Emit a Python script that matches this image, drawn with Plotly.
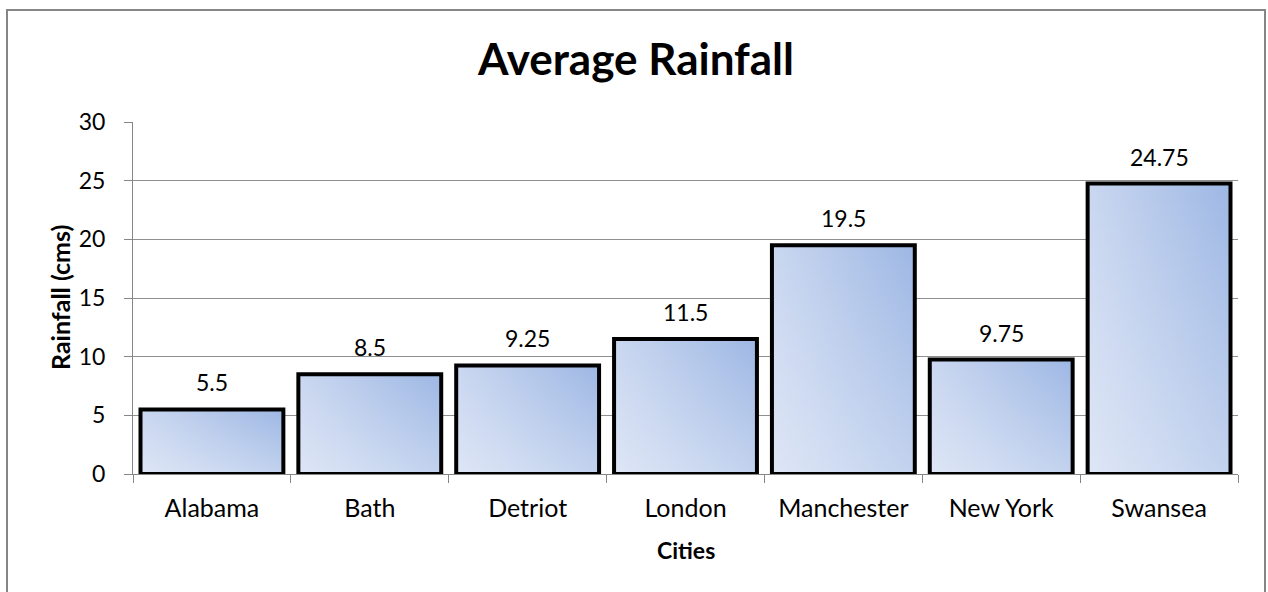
import plotly.graph_objects as go

cities = ["Alabama", "Bath", "Detriot", "London", "Manchester", "New York", "Swansea"]
rainfall = [5.5, 8.5, 9.25, 11.5, 19.5, 9.75, 24.75]
value_labels = ["5.5", "8.5", "9.25", "11.5", "19.5", "9.75", "24.75"]
y_ticks = [0, 5, 10, 15, 20, 25, 30]

W, H = 1268, 592
PL, PR, PT, PB = 133, 1238, 122, 474          # plot area in pixels
ML, MT, MR, MB = PL, PT, W - PR, H - PB
PW, PH = PR - PL, PB - PT
BAR_W = 0.905
HALF = BAR_W / 2
FONT = "Lato"
GRAY = "#868686"


def px_x(px):
    return (px - PL) / PW


def px_y(py):
    return (PB - py) / PH


fig = go.Figure()

# gradient fills (on base hidden linear axis)
for i, v in enumerate(rainfall):
    xs = [i - HALF, i + HALF, i + HALF, i - HALF, i - HALF]
    ys = [0, 0, v, v, 0]
    fig.add_trace(go.Scatter(
        x=xs, y=ys, mode="lines", fill="toself", line=dict(width=0),
        fillgradient=dict(type="horizontal",
                          colorscale=[[0, "#cad7f0"], [1, "#9db7e4"]]),
        hoverinfo="skip", showlegend=False, xaxis="x", yaxis="y"))
    fig.add_trace(go.Scatter(
        x=xs, y=ys, mode="lines", fill="toself", line=dict(width=0),
        fillgradient=dict(type="vertical",
                          colorscale=[[0, "rgba(255,255,255,0.38)"],
                                      [1, "rgba(255,255,255,0)"]]),
        hoverinfo="skip", showlegend=False, xaxis="x", yaxis="y"))

# bar outlines (category overlay axis)
fig.add_trace(go.Bar(
    x=cities, y=rainfall, width=BAR_W,
    marker=dict(color="rgba(0,0,0,0)", line=dict(color="#000000", width=4)),
    showlegend=False, xaxis="x2", yaxis="y"))

# value labels
for c, v, t in zip(cities, rainfall, value_labels):
    fig.add_annotation(x=c, y=v, xref="x2", yref="y", text=t, showarrow=False,
                       yanchor="bottom", yshift=11,
                       font=dict(family=FONT, size=23, color="#000000"))

# axis titles
fig.add_annotation(x=0.5, y=px_y(550), xref="paper", yref="paper", text="<b>Cities</b>",
                   showarrow=False, yanchor="middle",
                   font=dict(family=FONT, size=23, color="#000000"))
fig.add_annotation(x=px_x(60), y=0.5, xref="paper", yref="paper",
                   text="<b>Rainfall (cms)</b>", textangle=-90, showarrow=False,
                   xanchor="center", yanchor="middle",
                   font=dict(family=FONT, size=25, color="#000000"))

# chart border
fig.add_shape(type="rect", xref="paper", yref="paper",
              x0=px_x(7), x1=px_x(1265), y0=px_y(640), y1=px_y(10),
              line=dict(color=GRAY, width=2), fillcolor="rgba(0,0,0,0)", layer="below")

fig.update_layout(
    width=W, height=H,
    margin=dict(l=ML, r=MR, t=MT, b=MB, pad=0),
    paper_bgcolor="white", plot_bgcolor="white",
    title=dict(text="<b>Average Rainfall</b>", x=636 / W, xref="container",
               y=1 - 60 / H, yref="container", yanchor="middle", xanchor="center",
               font=dict(family=FONT, size=44, color="#000000")),
    xaxis=dict(range=[-0.5, len(cities) - 0.5], visible=False, fixedrange=True),
    xaxis2=dict(type="category", overlaying="x", anchor="y", side="bottom",
                range=[-0.5, len(cities) - 0.5],
                showline=True, linecolor=GRAY, linewidth=1,
                ticks="outside", tickson="boundaries", ticklen=8, tickcolor=GRAY,
                tickfont=dict(family=FONT, size=25, color="#000000"),
                showgrid=False, ticklabelstandoff=12),
    yaxis=dict(range=[0, 30], tickvals=y_ticks, showline=True, linecolor=GRAY, linewidth=1,
               ticks="outside", ticklen=8, tickcolor=GRAY,
               showgrid=True, gridcolor="#8f8f8f", gridwidth=1, zeroline=False,
               tickfont=dict(family=FONT, size=23, color="#000000"),
               ticklabelstandoff=14),
    bargap=0.095,
    font=dict(family=FONT, color="#000000"),
)

fig.write_html(
    "out.html",
    config={"displayModeBar": False},
    post_script="document.body.style.margin='0';document.body.style.overflow='hidden';",
)
